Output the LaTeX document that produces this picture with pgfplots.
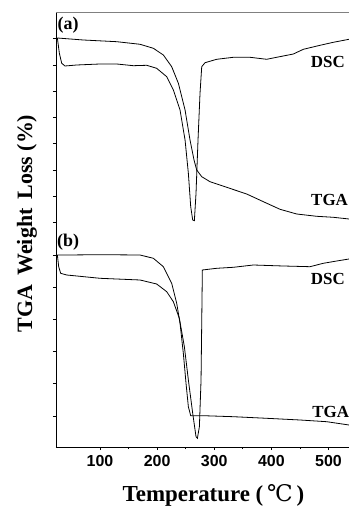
\documentclass[border=0pt]{standalone}
\usepackage{fontspec}
\setmainfont{Liberation Serif}
\setsansfont{Liberation Sans}
\newfontfamily\dejavu{DejaVu Serif}
\usepackage{pgfplots}
\pgfplotsset{compat=1.18}
\begin{document}
\begin{tikzpicture}
\begin{axis}[
  at={(0,0)}, anchor=south west,
  scale only axis, width=293bp, height=435bp,
  xmin=22.9, xmax=536, ymin=0, ymax=435,
  axis x line*=bottom, axis y line*=left,
  axis line style={-, line width=0.8bp},
  clip=false,
  xtick={100,200,300,400,500},
  minor x tick num=1,
  ytick={409,382,356,330,304,277,251,225,192,160,128,96,64,31},
  yticklabels={},
  tick align=outside,
  major tick length=3bp, minor tick length=2bp,
  tick style={line width=0.6bp, black},
  /pgf/number format/assume math mode=true,
  xticklabel style={font=\sffamily\bfseries\fontsize{16}{18}\selectfont, yshift=-1.5bp},
  xlabel={Temperature (\,{\dejavu\mdseries ℃}\,)},
  xlabel style={font=\bfseries\fontsize{23}{26}\selectfont, at={(axis description cs:0.5375,-0.1264)}, anchor=base},
  ylabel={TGA\, Weight\, Loss (\%)},
  ylabel style={font=\bfseries\fontsize{22}{26}\selectfont, at={(axis description cs:-0.0819,0.514)}, anchor=base},
]
% DSC (a)
\addplot[black, line width=0.8bp] coordinates {
(25.3,409) (28.8,393.7) (32.9,383.7) (38.7,381) (59.1,382) (100,383) (129.2,383)
(158.4,381.3) (181.7,381.7) (199.2,378.7) (216.8,370.3) (228.4,357) (240.1,337)
(248.9,307) (254.7,273.7) (258.8,240.3) (262.3,227) (265.2,226.3) (268.1,253.7)
(271.6,307) (275.1,353.7) (278.1,380.3) (283.9,384.3) (304.3,387.7) (333.5,389.7)
(362.7,389.7) (391.9,387.7) (409.4,389.7) (438.6,393) (456.1,397.7) (485.3,401.7)
(508.6,404.7) (536,407.7)};
% TGA (a)
\addplot[black, line width=0.8bp] coordinates {
(25.3,409) (70.8,407) (129.2,405.3) (170.1,402.7) (193.4,398.7) (210.9,392)
(225.5,380.3) (237.2,363.7) (248.9,337) (257.6,307) (264.6,287) (269.3,277)
(278.1,270.3) (292.6,265.3) (321.8,259.7) (356.8,253) (386,245.3) (415.2,237.7)
(444.4,233) (479.4,230.7) (508.6,229.7) (536,228)};
% TGA (b)
\addplot[black, line width=0.8bp] coordinates {
(25.3,192) (41.6,192) (100,192.3) (170.1,192) (193.4,188.7) (210.9,180.3)
(225.5,163.7) (234.3,143.7) (240.1,123.7) (245.9,93.7) (250.6,63.7) (254.7,40.3)
(258.8,31.3) (281,31.3) (333.5,30.3) (391.9,28.7) (450.3,27) (497,25.3) (536,22)};
% DSC (b)
\addplot[black, line width=0.8bp] coordinates {
(25.3,192) (27.6,180.3) (31.1,173.7) (41.6,172) (100,168.7) (170.1,167) (199.2,163)
(216.8,155.3) (228.4,145.3) (238.9,128.7) (247.7,100.3) (254.7,67) (262.3,33.7)
(268.1,10.3) (270.5,8.7) (274,20.3) (276.9,67) (279.2,177) (304.3,178.7)
(333.5,179.7) (368.5,182) (421,181) (467.7,180.3) (491,183.7) (514.5,186) (536,188)};
\draw[gray, line width=0.6bp] (rel axis cs:0,1) -- (rel axis cs:1,1);
\node[font=\bfseries\fontsize{18}{20}\selectfont] at (axis cs:44,422) {(a)};
\node[font=\bfseries\fontsize{18}{20}\selectfont] at (axis cs:44,205) {(b)};
\node[font=\bfseries\fontsize{17}{20}\selectfont] at (axis cs:499,385) {DSC};
\node[font=\bfseries\fontsize{17}{20}\selectfont] at (axis cs:502,247) {TGA};
\node[font=\bfseries\fontsize{17}{20}\selectfont] at (axis cs:499,168) {DSC};
\node[font=\bfseries\fontsize{17}{20}\selectfont] at (axis cs:504,35) {TGA};
\end{axis}
\pgfresetboundingbox
\path (-56bp,-60bp) rectangle (293bp,447bp);
\end{tikzpicture}
\end{document}
